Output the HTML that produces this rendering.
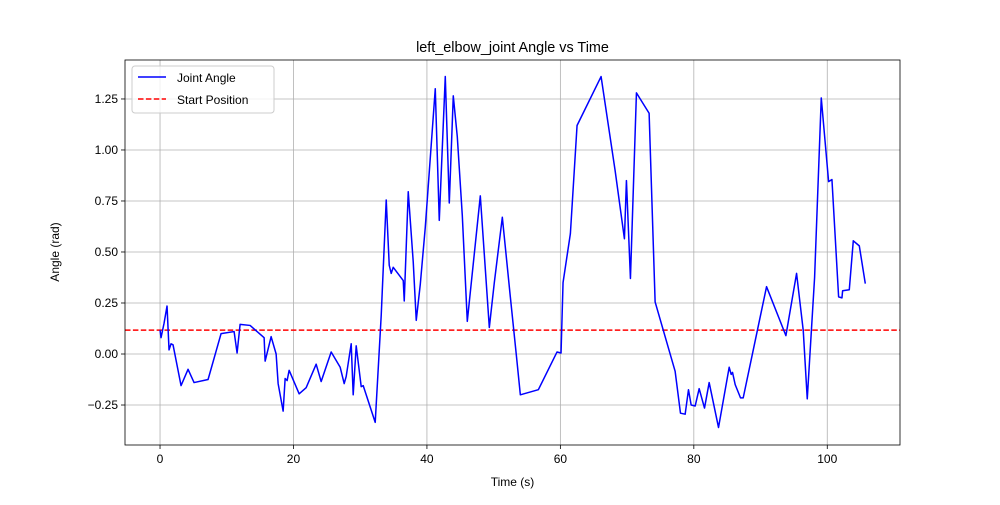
<!DOCTYPE html>
<html><head><meta charset="utf-8"><style>
body{margin:0;background:#fff}
svg text{font-family:"Liberation Sans","DejaVu Sans",sans-serif;fill:#000}
</style></head><body>
<svg id="chart" width="1000" height="500"></svg>
<script>
const times=[0,.15,.6,1.05,1.35,1.65,1.95,3.15,4.2,5.1,7.2,9.15,11.1,11.55,12,13.5,15.6,15.75,16.65,17.4,17.7,18.45,18.75,19.05,19.35,20.85,21.9,23.4,24.15,25.65,27,27.6,27.9,28.65,28.95,29.4,30.15,30.45,32.25,33.15,33.9,34.35,34.65,34.95,36.45,36.6,37.2,37.95,38.4,39,39.75,41.25,41.85,42.75,43.35,43.95,44.55,45.3,46.05,48,49.35,50.1,51.3,52.5,53.4,54,56.7,59.5,60.1,60.4,61.5,62.5,66.1,68.2,69.6,69.9,70.5,71.4,73.3,74.2,77.2,78,78.7,79.2,79.6,80.2,80.8,81.6,82.3,83.7,85.3,85.6,85.8,86.2,87,87.4,90.9,93.8,95.4,96.4,97,98.1,99.1,100.2,100.7,101.7,102.2,102.3,103.3,103.9,104.8,105.7];
const angles=[.117,.08,.15,.235,.02,.05,.045,-.155,-.075,-.14,-.125,.10,.11,.005,.145,.14,.08,-.035,.085,0,-.145,-.28,-.12,-.13,-.08,-.195,-.165,-.05,-.135,.01,-.065,-.145,-.11,.05,-.2,.04,-.16,-.155,-.335,.19,.755,.435,.395,.425,.36,.26,.795,.45,.165,.34,.62,1.3,.655,1.36,.74,1.265,1.065,.68,.16,.775,.13,.35,.67,.28,-.005,-.2,-.175,.01,.005,.35,.59,1.12,1.36,.9,.565,.85,.37,1.28,1.18,.255,-.085,-.29,-.295,-.175,-.25,-.255,-.17,-.265,-.14,-.36,-.065,-.1,-.09,-.15,-.215,-.215,.33,.09,.395,.115,-.22,.375,1.255,.845,.855,.28,.275,.31,.315,.555,.53,.345];
const startPos=[0.117];
const xTicks=[0,20,40,60,80,100];
const yTicks=[-0.25,0,0.25,0.5,0.75,1.0,1.25];
const L=125,R=900,T=60,B=445;
const xMin=-5.25,xMax=110.9,yMin=-0.446,yMax=1.441;
const X=t=>L+(t-xMin)/(xMax-xMin)*(R-L);
const Y=v=>B-(v-yMin)/(yMax-yMin)*(B-T);
const svg=document.getElementById('chart');
const NS='http://www.w3.org/2000/svg';
function mk(tag,attrs,parent){const e=document.createElementNS(NS,tag);for(const k in attrs)e.setAttribute(k,attrs[k]);(parent||svg).appendChild(e);return e;}
const grid=mk('g',{});


xTicks.forEach(t=>{
  mk('line',{x1:X(t),x2:X(t),y1:T,y2:B,stroke:'#b0b0b0','stroke-width':0.8},grid);
  mk('line',{x1:X(t),x2:X(t),y1:B,y2:B+4,stroke:'#000','stroke-width':0.8});
  const tx=mk('text',{x:X(t),y:B+18,'text-anchor':'middle','font-size':12});
  tx.textContent=t;
  
  
});
yTicks.forEach(v=>{
  mk('line',{x1:L,x2:R,y1:Y(v),y2:Y(v),stroke:'#b0b0b0','stroke-width':0.8},grid);
  mk('line',{x1:L-4,x2:L,y1:Y(v),y2:Y(v),stroke:'#000','stroke-width':0.8});
  const tx=mk('text',{x:L-7,y:Y(v)+4,'text-anchor':'end','font-size':12});
  tx.textContent=v.toFixed(2).replace('-','\u2212');
  
  
});
const sl=mk('line',{x1:L,x2:R,y1:Y(startPos[0]),y2:Y(startPos[0]),stroke:'#ff0000','stroke-width':1.5,'stroke-dasharray':'5.5,2.4'});


const pl=mk('polyline',{points:times.map((t,i)=>X(t)+','+Y(angles[i])).join(' '),fill:'none',stroke:'#0000ff','stroke-width':1.5,'stroke-linejoin':'round'});


const fr=mk('rect',{x:L,y:T,width:R-L,height:B-T,fill:'none',stroke:'#000','stroke-width':0.8});


const title=mk('text',{x:(L+R)/2,y:T-8,'text-anchor':'middle','font-size':14.4});
title.textContent='left_elbow_joint Angle vs Time';


const xl=mk('text',{x:(L+R)/2,y:486,'text-anchor':'middle','font-size':12});
xl.textContent='Time (s)';


const yl=mk('text',{x:0,y:0,'text-anchor':'middle','font-size':12,transform:'translate(63,'+((T+B)/2)+') rotate(-90)'});
yl.setAttribute('transform','translate(63,'+((T+B)/2)+') rotate(-90)'.replace('63','63'));
yl.textContent='Angle (rad)';


yl.setAttribute('transform','translate(63,'+((T+B)/2)+') rotate(-90)');
yl.setAttribute('x',0);
yl.setAttribute('transform','translate(63,'+((T+B)/2)+') rotate(-90)');
yl.setAttribute('transform','translate(63,252) rotate(-90)');
yl.setAttribute('transform','translate(63,252) rotate(-90)');
yl.setAttribute('transform','translate(63,252) rotate(-90)');
yl.setAttribute('transform','translate(63,252) rotate(-90)');
yl.setAttribute('transform','translate(63,252) rotate(-90)');
yl.setAttribute('transform','translate(63,252) rotate(-90)');
yl.setAttribute('transform','translate(59+4,252) rotate(-90)'.replace('59+4','63'));
yl.setAttribute('transform','translate(63,252) rotate(-90)');
yl.setAttribute('transform','translate(63,252) rotate(-90)');
yl.setAttribute('transform','translate(59,252) rotate(-90)'.replace('59','63'));
yl.setAttribute('transform','translate(63,252) rotate(-90)');
yl.setAttribute('transform','translate(63,252) rotate(-90)');
yl.setAttribute('transform','translate(59,252) rotate(-90)');
const lg=mk('g',{});


mk('rect',{x:132,y:66,width:142,height:47,rx:3,fill:'#fff','fill-opacity':0.8,stroke:'#ccc'},lg);
mk('line',{x1:138,x2:166,y1:77,y2:77,stroke:'#0000ff','stroke-width':1.5},lg);
mk('line',{x1:138,x2:166,y1:99,y2:99,stroke:'#ff0000','stroke-width':1.5,'stroke-dasharray':'5.5,2.4'},lg);
const l1=mk('text',{x:177,y:82,'font-size':12},lg);l1.textContent='Joint Angle';


const l2=mk('text',{x:177,y:104,'font-size':12},lg);l2.textContent='Start Position';


</script>
</body></html>
